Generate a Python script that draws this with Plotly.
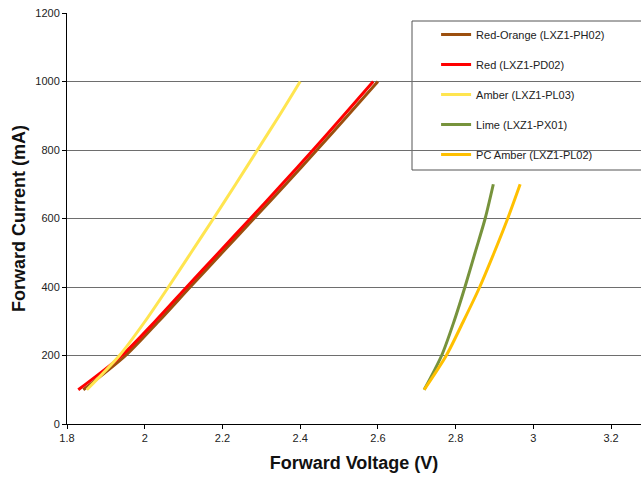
import plotly.graph_objects as go

current = [100, 200, 300, 400, 500, 600, 700, 800, 900, 1000]
v_red_orange = [1.842, 1.951, 2.036, 2.117, 2.199, 2.281, 2.363, 2.443, 2.522, 2.600]
v_red = [1.829, 1.941, 2.027, 2.108, 2.190, 2.272, 2.353, 2.433, 2.511, 2.588]
v_amber = [1.851, 1.935, 2.001, 2.061, 2.119, 2.177, 2.234, 2.290, 2.346, 2.400]

current_lp = [100, 200, 300, 400, 500, 600, 700]
v_lime = [2.719, 2.764, 2.796, 2.824, 2.850, 2.876, 2.897]
v_pc_amber = [2.719, 2.776, 2.820, 2.862, 2.899, 2.934, 2.966]

series = [
    ("Red-Orange (LXZ1-PH02)", v_red_orange, current, "#9C4F0E"),
    ("Red (LXZ1-PD02)", v_red, current, "#FF0000"),
    ("Amber (LXZ1-PL03)", v_amber, current, "#FFE550"),
    ("Lime (LXZ1-PX01)", v_lime, current_lp, "#77933C"),
    ("PC Amber (LXZ1-PL02)", v_pc_amber, current_lp, "#FFC000"),
]

x_ticks = [1.8, 2.0, 2.2, 2.4, 2.6, 2.8, 3.0, 3.2]
x_tick_labels = ["1.8", "2", "2.2", "2.4", "2.6", "2.8", "3", "3.2"]
y_ticks = [0, 200, 400, 600, 800, 1000, 1200]

fig = go.Figure()
for i, (name, xs, ys, color) in enumerate(series):
    fig.add_trace(go.Scatter(
        x=xs, y=ys, mode="lines", name=name, legendgroup=f"g{i}",
        line=dict(color=color, width=3, shape="spline", smoothing=0.8),
    ))

font = "Arial, Liberation Sans, sans-serif"
fig.update_layout(
    width=641, height=477,
    margin=dict(l=67, r=0, t=13, b=53),
    paper_bgcolor="white", plot_bgcolor="white",
    font=dict(family=font, size=11, color="#222"),
    showlegend=True,
    legend=dict(
        x=0.643, y=0.983, xanchor="left", yanchor="top",
        bgcolor="rgba(0,0,0,0)", borderwidth=0,
        font=dict(size=11, color="#222"),
        tracegroupgap=11, itemwidth=30,
    ),
    xaxis=dict(
        range=[1.8, 3.277], tickvals=x_ticks, ticktext=x_tick_labels,
        showgrid=False, zeroline=False, showline=True, linecolor="black", linewidth=1,
        ticks="outside", ticklen=4, tickcolor="black", automargin=False,
        title=dict(text="<b>Forward Voltage (V)</b>", font=dict(size=18, color="#111"), standoff=13),
    ),
    yaxis=dict(
        range=[0, 1200], tickvals=y_ticks,
        showgrid=True, gridcolor="#6e6e6e", gridwidth=1, zeroline=False,
        showline=True, linecolor="black", linewidth=1,
        ticks="outside", ticklen=4, tickcolor="black", automargin=False,
        title=dict(text="<b>Forward Current (mA)</b>", font=dict(size=18, color="#111"), standoff=5),
    ),
    shapes=[dict(type="rect", xref="paper", yref="paper", x0=(412 - 67) / 574, x1=1.05,
                 y0=(424 - 170) / 411, y1=(424 - 21) / 411,
                 line=dict(color="#555", width=1), fillcolor="white", layer="below")],
)

fig.write_html("out.html", config={"displayModeBar": False},
               post_script="document.body.style.margin='0';document.body.style.overflow='hidden';")
